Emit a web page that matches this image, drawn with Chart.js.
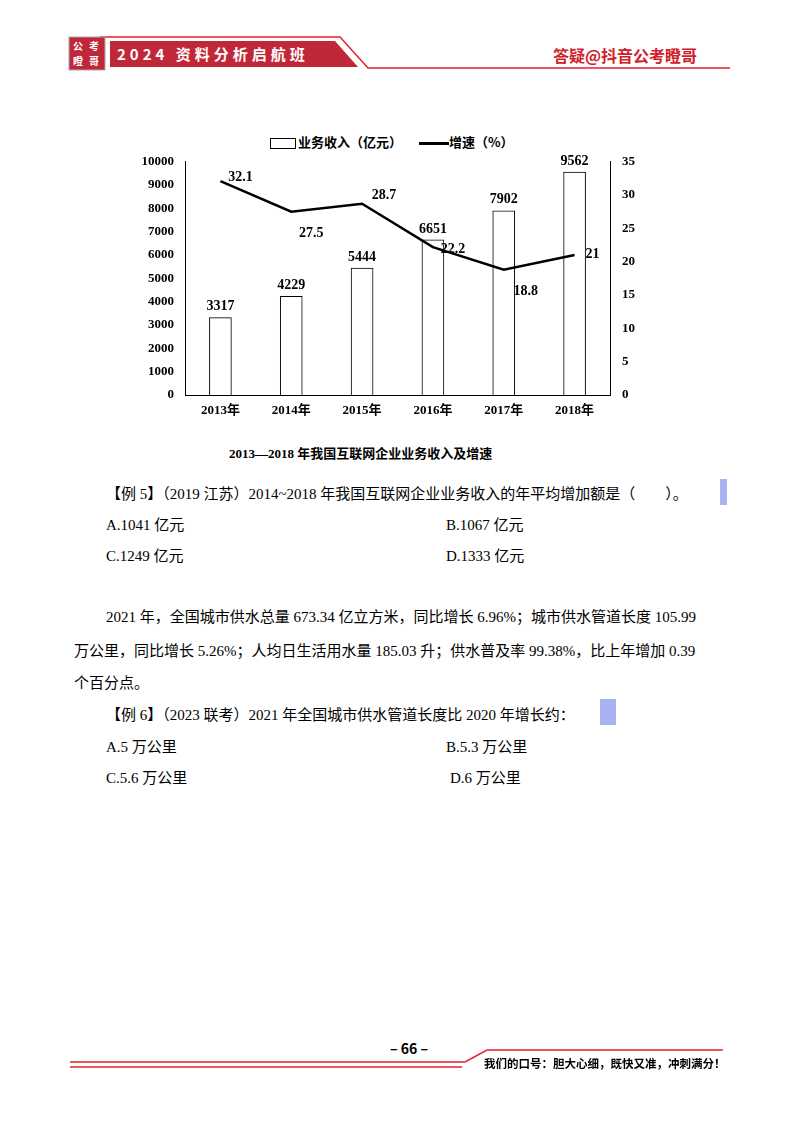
<!DOCTYPE html>
<html><head><meta charset="utf-8">
<script src="https://cdn.jsdelivr.net/npm/chart.js@4/dist/chart.umd.min.js"></script>
<style>
body{margin:0;width:800px;height:1132px;background:#fff;position:relative;font-family:"Liberation Serif","Noto Sans CJK SC",serif;color:#000;overflow:hidden}
.a{position:absolute;white-space:nowrap}
.t{font-size:15px}
#chartBox{position:absolute;left:110px;top:146px;width:540px;height:286px}
</style></head><body>
<!-- header -->
<svg class="a" style="left:0;top:0" width="800" height="80">
  <polyline points="100,37 340,37 368,68 730,68" fill="none" stroke="#e8202a" stroke-width="1.5"/>
  <polygon points="110,41 335,41 358,67 110,67" fill="#c0283a"/>
  <rect x="69" y="37" width="36" height="33" fill="#c0283a" stroke="#aaa"/>
</svg>
<div class="a" style="left:73px;top:38px;color:#fff;font:bold 10px 'Noto Sans CJK SC';line-height:15px;letter-spacing:6px">公考<br>瞪哥</div>
<div class="a" style="left:117px;top:43px;color:#fff;font:bold 15px 'Noto Sans CJK SC';letter-spacing:4px">2024 资料分析启航班</div>
<div class="a" style="left:553px;top:43px;color:#d0202a;font:bold 16px 'Noto Sans CJK SC'">答疑@抖音公考瞪哥</div>

<!-- chart legend -->
<div class="a" style="left:270px;top:132px;font:bold 13px 'Noto Sans CJK SC'"><span style="display:inline-block;width:24px;height:9px;border:1px solid #000;vertical-align:middle;margin-right:2px"></span>业务收入（亿元） <span style="display:inline-block;width:30px;height:3px;background:#000;vertical-align:middle;margin-left:14px"></span>增速（%）</div>
<div id="chartBox"><canvas id="c"></canvas></div>
<div class="a" style="left:229px;top:443px;font:bold 13px 'Liberation Serif','Noto Sans CJK SC'">2013—2018 年我国互联网企业业务收入及增速</div>

<!-- text -->
<div class="a t" style="left:106px;top:482px">【例 5】（2019 江苏）2014~2018 年我国互联网企业业务收入的年平均增加额是（　　）。</div>
<div class="a" style="left:720px;top:479px;width:7px;height:26px;background:#aab0f0"></div>
<div class="a t" style="left:106px;top:513px">A.1041 亿元</div><div class="a t" style="left:446px;top:513px">B.1067 亿元</div>
<div class="a t" style="left:106px;top:544px">C.1249 亿元</div><div class="a t" style="left:446px;top:544px">D.1333 亿元</div>
<div class="a t" style="left:106px;top:605px">2021 年，全国城市供水总量 673.34 亿立方米，同比增长 6.96%；城市供水管道长度 105.99</div>
<div class="a t" style="left:74px;top:639px">万公里，同比增长 5.26%；人均日生活用水量 185.03 升；供水普及率 99.38%，比上年增加 0.39</div>
<div class="a t" style="left:74px;top:671px">个百分点。</div>
<div class="a t" style="left:106px;top:703px">【例 6】（2023 联考）2021 年全国城市供水管道长度比 2020 年增长约：</div>
<div class="a" style="left:600px;top:699px;width:16px;height:26px;background:#aab0f0"></div>
<div class="a t" style="left:106px;top:735px">A.5 万公里</div><div class="a t" style="left:446px;top:735px">B.5.3 万公里</div>
<div class="a t" style="left:106px;top:766px">C.5.6 万公里</div><div class="a t" style="left:450px;top:766px">D.6 万公里</div>

<!-- footer -->
<div class="a" style="left:390px;top:1038px;font:bold 14px 'Noto Sans CJK SC'">– 66 –</div>
<svg class="a" style="left:0;top:0" width="800" height="1132"><polyline points="70,1062 465,1062 487,1050 723,1050" fill="none" stroke="#e8202a" stroke-width="1.5"/><line x1="70" y1="1067" x2="462" y2="1067" stroke="#e8202a" stroke-width="1.5"/></svg>
<div class="a" style="left:484px;top:1055px;font:bold 11.5px 'Noto Sans CJK SC'">我们的口号：胆大心细，既快又准，冲刺满分！</div>

<script>
const years = ['2013年', '2014年', '2015年', '2016年', '2017年', '2018年'];
const revenue = [3317, 4229, 5444, 6651, 7902, 9562];
const growth = [32.1, 27.5, 28.7, 22.2, 18.8, 21];
// label offsets for growth values (px, relative to the point)
const growthOffsets = [[20, -4], [20, 22], [22, -8], [20, 2], [22, 22], [18, -1]];

const labelPlugin = {
    id: 'labels',
    afterDatasetsDraw(chart) {
        const ctx = chart.ctx;
        ctx.save();
        ctx.font = 'bold 14px "Liberation Serif"';
        ctx.fillStyle = '#000';
        ctx.textAlign = 'center';
        ctx.textBaseline = 'bottom';
        chart.getDatasetMeta(0).data.forEach((bar, i) => {
            ctx.fillText(revenue[i], bar.x, bar.y - 4);
        });
        ctx.textBaseline = 'middle';
        chart.getDatasetMeta(1).data.forEach((pt, i) => {
            ctx.fillText(growth[i], pt.x + growthOffsets[i][0], pt.y + growthOffsets[i][1]);
        });
        ctx.restore();
    }
};

const tickFont = { family: 'Liberation Serif', size: 13, weight: 'bold' };
new Chart(document.getElementById('c'), {
    data: {
        labels: years,
        datasets: [{
            type: 'bar', data: revenue, yAxisID: 'y',
            backgroundColor: '#fff', borderColor: '#000', borderWidth: 1, barThickness: 22, order: 2
        }, {
            type: 'line', data: growth, yAxisID: 'y1',
            borderColor: '#000', borderWidth: 2.5, pointRadius: 0, tension: 0, order: 1
        }]
    },
    options: {
        responsive: true, maintainAspectRatio: false, animation: false,
        layout: { padding: { top: 14, right: 0 } },
        plugins: { legend: { display: false }, tooltip: { enabled: false } },
        scales: {
            x: {
                grid: { display: false, drawTicks: false }, border: { color: '#000' },
                ticks: { font: { family: 'Liberation Serif, Noto Sans CJK SC', size: 13, weight: 'bold' }, color: '#000', padding: 8 },
                afterFit(s) { s.height = 37; }
            },
            y: {
                position: 'left', min: 0, max: 10000,
                ticks: { stepSize: 1000, font: tickFont, color: '#000', callback: v => String(v) },
                grid: { display: false }, border: { color: '#000' },
                afterFit(s) { s.width = 75; }
            },
            y1: {
                position: 'right', min: 0, max: 35,
                ticks: { stepSize: 5, font: tickFont, color: '#000', padding: 8 },
                grid: { display: false, drawTicks: true, tickLength: 4 }, border: { color: '#000' },
                afterFit(s) { s.width = 40; }
            }
        }
    },
    plugins: [labelPlugin]
});
</script>
</body></html>
